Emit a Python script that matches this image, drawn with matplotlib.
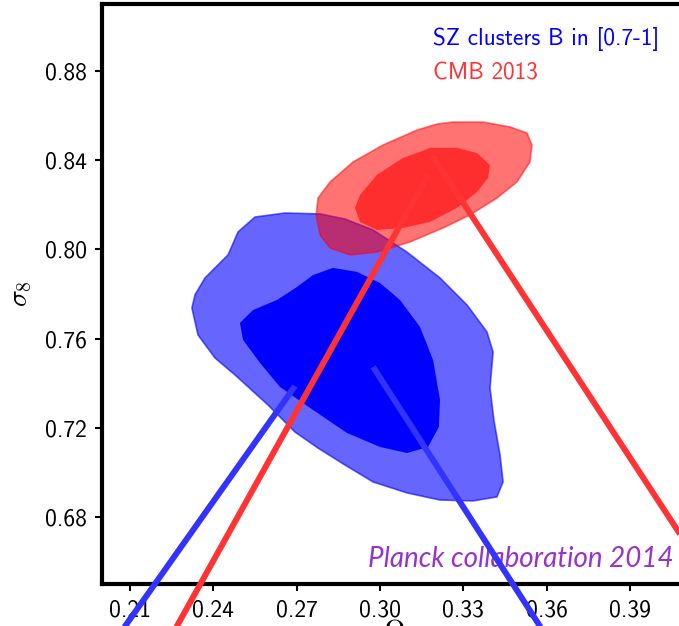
import matplotlib
matplotlib.use("Agg")
import matplotlib.pyplot as plt

# confidence contours in the (Omega_m, sigma_8) plane
sz_outer_x = [0.2658, 0.2784, 0.2874, 0.2975, 0.3097, 0.3216, 0.3313, 0.3385, 0.3407, 0.3396,
              0.3410, 0.3432, 0.3443, 0.3421, 0.3335, 0.3216, 0.3097, 0.2975, 0.2874, 0.2777,
              0.2694, 0.2597, 0.2478, 0.2406, 0.2345, 0.2323, 0.2334, 0.2370, 0.2453, 0.2489, 0.2550]
sz_outer_y = [0.8163, 0.8159, 0.8136, 0.8087, 0.7988, 0.7872, 0.7751, 0.7630, 0.7540, 0.7378,
              0.7235, 0.7078, 0.6957, 0.6890, 0.6872, 0.6876, 0.6908, 0.6957, 0.7033, 0.7109,
              0.7181, 0.7302, 0.7437, 0.7513, 0.7616, 0.7737, 0.7796, 0.7872, 0.7975, 0.8078, 0.8145]

sz_inner_x = [0.2831, 0.2917, 0.3000, 0.3072, 0.3144, 0.3191, 0.3216, 0.3212, 0.3173, 0.3097, 0.3000,
              0.2881, 0.2759, 0.2640, 0.2568, 0.2507, 0.2496, 0.2543, 0.2629, 0.2701, 0.2759]
sz_inner_y = [0.7917, 0.7899, 0.7849, 0.7773, 0.7652, 0.7504, 0.7325, 0.7204, 0.7114, 0.7087, 0.7114,
              0.7177, 0.7280, 0.7383, 0.7491, 0.7594, 0.7670, 0.7728, 0.7773, 0.7831, 0.7885]

cmb_outer_x = [0.3263, 0.3371, 0.3468, 0.3529, 0.3547, 0.3540, 0.3493, 0.3421, 0.3324, 0.3227, 0.3108,
               0.2989, 0.2892, 0.2820, 0.2784, 0.2770, 0.2777, 0.2820, 0.2903, 0.3011, 0.3133, 0.3205]
cmb_outer_y = [0.8571, 0.8571, 0.8549, 0.8522, 0.8468, 0.8392, 0.8302, 0.8230, 0.8154, 0.8096, 0.8033,
               0.7988, 0.7975, 0.8006, 0.8065, 0.8154, 0.8230, 0.8302, 0.8392, 0.8468, 0.8535, 0.8562]

cmb_inner_x = [0.3180, 0.3277, 0.3349, 0.3396, 0.3389, 0.3349, 0.3277, 0.3180, 0.3083, 0.2989,
               0.2928, 0.2910, 0.2928, 0.2989, 0.3083, 0.3144]
cmb_inner_y = [0.8455, 0.8455, 0.8432, 0.8378, 0.8320, 0.8257, 0.8186, 0.8123, 0.8096, 0.8087,
               0.8123, 0.8186, 0.8244, 0.8334, 0.8410, 0.8437]

# straight segments (start, end)
blue_seg1 = ([0.2694, 0.2048], [0.7387, 0.6250])
blue_seg2 = ([0.2975, 0.3607], [0.7473, 0.6250])
red_seg1 = ([0.3173, 0.2242], [0.8334, 0.6250])
red_seg2 = ([0.3187, 0.4150], [0.8423, 0.6590])

xticks = [0.21, 0.24, 0.27, 0.30, 0.33, 0.36, 0.39]
yticks = [0.68, 0.72, 0.76, 0.80, 0.84, 0.88]

plt.rcParams['mathtext.fontset'] = 'cm'

fig = plt.figure(figsize=(6.79, 6.26), dpi=100)
ax = fig.add_axes([0.1505, 0.0673, 0.8592, 0.9262])

ax.fill(sz_outer_x, sz_outer_y, fc=(0, 0, 1, 0.6), ec=(0, 0, 1, 0.6), lw=1.2, zorder=1)
ax.fill(sz_inner_x, sz_inner_y, fc=(0, 0, 1, 1.0), ec='none', zorder=2)
ax.fill(cmb_outer_x, cmb_outer_y, fc=(1, 0, 0, 0.55), ec=(1, 0, 0, 0.5), lw=1.2, zorder=3)
ax.fill(cmb_inner_x, cmb_inner_y, fc=(1, 0, 0, 0.6), ec='none', zorder=4)

for seg in (blue_seg1, blue_seg2):
    ax.plot(seg[0], seg[1], color='#3333ff', lw=4.3, solid_capstyle='butt',
            clip_on=False, zorder=6)
for seg in (red_seg1, red_seg2):
    ax.plot(seg[0], seg[1], color='#ff3333', lw=4.3, solid_capstyle='butt',
            clip_on=False, zorder=6)

ax.set_xlim(0.20, 0.41)
ax.set_ylim(0.65, 0.91)
ax.set_xticks(xticks)
ax.set_yticks(yticks)
ax.set_xticklabels(['%.2f' % v for v in xticks], fontfamily='cmss10', fontsize=17)
ax.set_yticklabels(['%.2f' % v for v in yticks], fontfamily='cmss10', fontsize=17)
ax.tick_params(direction='out', length=5, width=1.5, pad=6)

for side in ('left', 'top', 'bottom'):
    ax.spines[side].set_linewidth(3)
ax.spines['right'].set_visible(False)

ax.set_xlabel(r'$\Omega$', fontsize=20, labelpad=-2)
ax.set_ylabel(r'$\sigma_8$', fontsize=20, labelpad=8)

ax.text(0.3191, 0.8917, 'SZ clusters B in [0.7-1]', color='blue',
        fontfamily='cmss10', fontsize=16.8, va='baseline')
ax.text(0.3191, 0.8760, 'CMB 2013', color='#ff3333',
        fontfamily='cmss10', fontsize=16.8, va='baseline')
ax.text(0.2957, 0.6576, 'Planck collaboration 2014', color='#9932cc',
        fontfamily='Lato', fontstyle='italic', fontsize=20, va='baseline', zorder=5)

fig.savefig('out.png', dpi=100)
